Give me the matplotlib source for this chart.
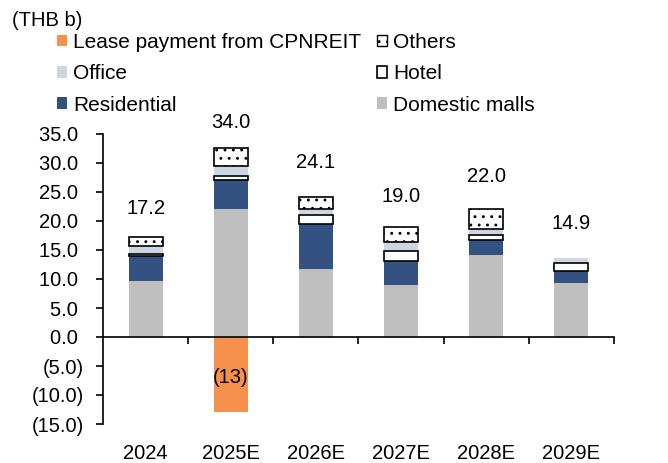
import matplotlib
matplotlib.use("Agg")
import matplotlib.pyplot as plt
from matplotlib.patches import Patch
import numpy as np

plt.rcParams['font.family'] = ['Liberation Sans', 'DejaVu Sans']
plt.rcParams['hatch.linewidth'] = 0.9
plt.rcParams['hatch.color'] = '#333333'

categories = ['2024', '2025E', '2026E', '2027E', '2028E', '2029E']
domestic_malls = [9.7, 22.0, 11.7, 9.0, 14.1, 9.3]
residential = [4.2, 5.1, 7.8, 4.1, 2.7, 2.1]
hotel = [0.4, 0.7, 1.5, 1.8, 0.8, 1.3]
office = [1.4, 1.6, 1.0, 1.5, 1.1, 1.0]
others = [1.5, 3.2, 2.1, 2.6, 3.3, 0.0]
lease = [0, -13.0, 0, 0, 0, 0]
total_labels = ['17.2', '34.0', '24.1', '19.0', '22.0', '14.9']
total_label_y = [22.1, 37.0, 30.0, 24.2, 27.6, 19.6]
lease_label = '(13)'
yticks = [35, 30, 25, 20, 15, 10, 5, 0, -5, -10, -15]

c_mall = '#BFBFBF'
c_res = '#335282'
c_office = '#CFD6E3'
c_lease = '#F5914D'

fig = plt.figure(figsize=(6.68, 4.63), dpi=100)
ax = fig.add_axes([103/668, 39/463, 511/668, 290/463])

x = np.arange(len(categories))
w = 0.4
b0 = np.zeros(len(x))
ax.bar(x, domestic_malls, w, bottom=b0, color=c_mall, zorder=2)
b1 = b0 + np.array(domestic_malls)
ax.bar(x, residential, w, bottom=b1, color=c_res, zorder=2)
b2 = b1 + np.array(residential)
ax.bar(x, hotel, w, bottom=b2, facecolor='white', edgecolor='black', linewidth=1.2, zorder=3)
b3 = b2 + np.array(hotel)
ax.bar(x, office, w, bottom=b3, color=c_office, zorder=2)
b4 = b3 + np.array(office)
oth = np.array(others)
mask = oth > 0
ax.bar(x[mask], oth[mask], w, bottom=b4[mask], facecolor='white', edgecolor='black',
       linewidth=1.2, hatch='..', zorder=3)
ax.bar(x, lease, w, color=c_lease, zorder=2)

fs = 14.5
for i, (t, yy) in enumerate(zip(total_labels, total_label_y)):
    ax.text(x[i], yy, t, ha='center', va='center', fontsize=fs, clip_on=False)
ax.text(1, -6.9, lease_label, ha='center', va='center', fontsize=fs)

ax.set_xlim(-0.5, 5.5)
ax.set_ylim(-15, 35)
ax.set_yticks(yticks)
ax.set_yticklabels([f'{v:.1f} ' if v >= 0 else f'({-v:.1f})' for v in yticks], fontsize=fs)
ax.tick_params(axis='y', direction='out', length=5, width=1.2, pad=9)

for s in ['top', 'right']:
    ax.spines[s].set_visible(False)
ax.spines['left'].set_linewidth(1.2)
ax.spines['bottom'].set_position(('data', 0))
ax.spines['bottom'].set_linewidth(1.2)
ax.set_xticks(x)
ax.set_xticklabels(categories, fontsize=fs)
ax.set_xticks(np.arange(0.5, 6, 1), minor=True)
ax.tick_params(axis='x', which='major', length=0, pad=77)
ax.tick_params(axis='x', which='minor', length=5, width=1.2, direction='out')

fig.text(12/668, 1 - 20/463, '(THB b)', fontsize=fs, ha='left', va='center')

lfs = 15
h_col1 = [
    Patch(facecolor=c_lease, edgecolor='none'),
    Patch(facecolor=c_office, edgecolor='none'),
    Patch(facecolor=c_res, edgecolor='none'),
]
l_col1 = ['Lease payment from CPNREIT', 'Office', 'Residential']
h_col2 = [
    Patch(facecolor='white', edgecolor='black', hatch='..', linewidth=1.0),
    Patch(facecolor='white', edgecolor='black', linewidth=1.2),
    Patch(facecolor=c_mall, edgecolor='none'),
]
l_col2 = ['Others', 'Hotel', 'Domestic malls']
common = dict(loc='upper left', ncol=1, frameon=False, fontsize=lfs, handlelength=0.48,
              handleheight=0.48, handletextpad=0.3, labelspacing=0.59, borderpad=0,
              borderaxespad=0)
leg1 = fig.legend(h_col1, l_col1, bbox_to_anchor=(57/668, 1 - 33/463), **common)
leg2 = fig.legend(h_col2, l_col2, bbox_to_anchor=(377/668, 1 - 33/463), **common)

fig.savefig('out.png', dpi=100)
